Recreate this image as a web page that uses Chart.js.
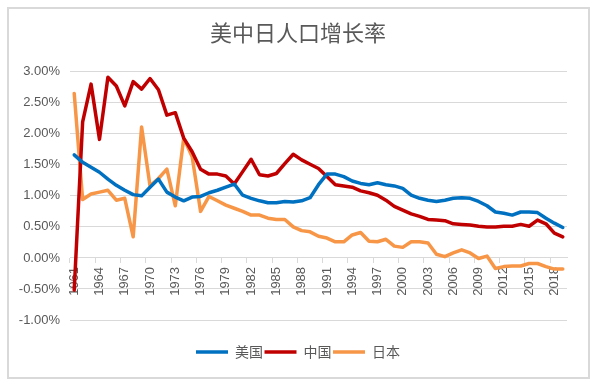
<!DOCTYPE html>
<html>
<head>
<meta charset="utf-8">
<script src="https://cdn.jsdelivr.net/npm/chart.js@4/dist/chart.umd.min.js"></script>
<style>
    html, body { margin: 0; padding: 0; background: #fff; }
</style>
</head>
<body>
<canvas id="popChart" width="597" height="386"></canvas>
<script>
// 数据（单位：%）
const years = [
    '1961', '1962', '1963', '1964', '1965', '1966', '1967', '1968', '1969', '1970',
    '1971', '1972', '1973', '1974', '1975', '1976', '1977', '1978', '1979', '1980',
    '1981', '1982', '1983', '1984', '1985', '1986', '1987', '1988', '1989', '1990',
    '1991', '1992', '1993', '1994', '1995', '1996', '1997', '1998', '1999', '2000',
    '2001', '2002', '2003', '2004', '2005', '2006', '2007', '2008', '2009', '2010',
    '2011', '2012', '2013', '2014', '2015', '2016', '2017', '2018', '2019'
];

const usaGrowth = [
    1.66, 1.54, 1.46, 1.38, 1.27, 1.17, 1.09, 1.02, 1.00, 1.14,
    1.27, 1.06, 0.98, 0.92, 0.98, 0.99, 1.05, 1.09, 1.14, 1.19,
    1.01, 0.96, 0.92, 0.89, 0.89, 0.91, 0.90, 0.92, 0.97, 1.18,
    1.35, 1.35, 1.31, 1.24, 1.20, 1.18, 1.21, 1.18, 1.16, 1.12,
    1.01, 0.96, 0.93, 0.91, 0.93, 0.96, 0.97, 0.96, 0.91, 0.84,
    0.74, 0.72, 0.69, 0.74, 0.74, 0.73, 0.64, 0.56, 0.49
];

const chinaGrowth = [
    -0.52, 2.19, 2.80, 1.91, 2.91, 2.77, 2.45, 2.84, 2.72, 2.89,
    2.71, 2.30, 2.34, 1.93, 1.71, 1.43, 1.35, 1.35, 1.32, 1.19,
    1.39, 1.59, 1.34, 1.32, 1.36, 1.52, 1.67, 1.58, 1.51, 1.44,
    1.31, 1.18, 1.16, 1.14, 1.08, 1.05, 1.01, 0.93, 0.83, 0.77,
    0.71, 0.67, 0.62, 0.61, 0.60, 0.55, 0.54, 0.53, 0.51, 0.50,
    0.50, 0.51, 0.51, 0.54, 0.51, 0.61, 0.55, 0.40, 0.34
];

const japanGrowth = [
    2.65, 0.94, 1.03, 1.06, 1.09, 0.93, 0.96, 0.34, 2.11, 1.16,
    1.28, 1.43, 0.84, 1.93, 1.63, 0.75, 0.99, 0.92, 0.85, 0.80,
    0.75, 0.69, 0.69, 0.64, 0.62, 0.62, 0.50, 0.44, 0.42, 0.35,
    0.32, 0.26, 0.26, 0.37, 0.41, 0.27, 0.26, 0.30, 0.19, 0.17,
    0.26, 0.26, 0.24, 0.06, 0.02, 0.08, 0.13, 0.08, -0.01, 0.03,
    -0.17, -0.14, -0.13, -0.13, -0.09, -0.09, -0.14, -0.18, -0.18
];

const seriesNames = ['美国', '中国', '日本'];
const seriesColors = ['#0070C0', '#C00000', '#F79646'];

const yMin = -1;
const yMax = 3;
const yStep = 0.5;

const textGray = '#595959';
const gridGray = '#d9d9d9';

// 外框与白底
const framePlugin = {
    id: 'frame',
    beforeDraw(chart) {
        const ctx = chart.ctx;
        ctx.save();
        ctx.fillStyle = '#fff';
        ctx.fillRect(0, 0, chart.width, chart.height);
        ctx.strokeStyle = gridGray;
        ctx.lineWidth = 2;
        ctx.strokeRect(8, 8, chart.width - 16, chart.height - 16);
        ctx.restore();
    }
};

// 标题和图例居中于整张图，而不是绘图区
const centerBoxes = {
    id: 'centerBoxes',
    afterLayout(chart) {
        [chart.legend, chart.titleBlock].forEach(box => {
            if (box) {
                box.left = 29;
                box.right = 567;
            }
        });
    }
};

function makeDataset(i, values) {
    return {
        label: seriesNames[i],
        data: values,
        borderColor: seriesColors[i],
        backgroundColor: seriesColors[i],
        borderWidth: 3.5,
        borderCapStyle: 'round',
        borderJoinStyle: 'round',
        pointRadius: 0,
        tension: 0,
        fill: false
    };
}

new Chart(document.getElementById('popChart'), {
    type: 'line',
    data: {
        labels: years,
        datasets: [
            makeDataset(0, usaGrowth),
            makeDataset(1, chinaGrowth),
            makeDataset(2, japanGrowth)
        ]
    },
    plugins: [framePlugin, centerBoxes],
    options: {
        responsive: false,
        animation: false,
        layout: {
            padding: { left: 10, right: 30, top: 0, bottom: 17 }
        },
        plugins: {
            title: {
                display: true,
                text: '美中日人口增长率',
                color: textGray,
                font: { family: '"Noto Sans CJK SC"', size: 22, weight: 'normal' },
                padding: { top: 19.8, bottom: 25.5 }
            },
            legend: {
                position: 'bottom',
                title: {
                    display: true,
                    text: '',
                    font: { size: 10, lineHeight: 1 },
                    padding: { top: 13.5, bottom: 0 }
                },
                labels: {
                    usePointStyle: true,
                    pointStyle: 'line',
                    pointStyleWidth: 32,
                    padding: 1.5,
                    color: textGray,
                    font: { family: '"Noto Sans CJK SC"', size: 14 }
                }
            },
            tooltip: { enabled: false }
        },
        scales: {
            x: {
                type: 'category',
                position: { y: 0 },
                offset: true,
                border: { display: true, color: gridGray, width: 1 },
                grid: {
                    display: true,
                    drawOnChartArea: false,
                    drawTicks: true,
                    tickLength: 5,
                    offset: true,
                    color: function(context) {
                        return context.index % 3 === 0 ? gridGray : 'rgba(0,0,0,0)';
                    }
                },
                ticks: {
                    autoSkip: false,
                    maxRotation: 90,
                    minRotation: 90,
                    padding: 4,
                    color: textGray,
                    font: { family: '"Liberation Sans"', size: 13 },
                    callback: function(value, index) {
                        return index % 3 === 0 ? this.getLabelForValue(value) : '';
                    }
                }
            },
            y: {
                min: yMin,
                max: yMax,
                border: { display: false },
                grid: {
                    color: gridGray,
                    lineWidth: 1,
                    drawTicks: false
                },
                ticks: {
                    stepSize: yStep,
                    padding: 10,
                    color: textGray,
                    font: { family: '"Liberation Sans"', size: 13 },
                    callback: function(value) {
                        return value.toFixed(2) + '%';
                    }
                },
                afterFit: function(scale) {
                    scale.width = 60;
                }
            }
        }
    }
});
</script>
</body>
</html>
